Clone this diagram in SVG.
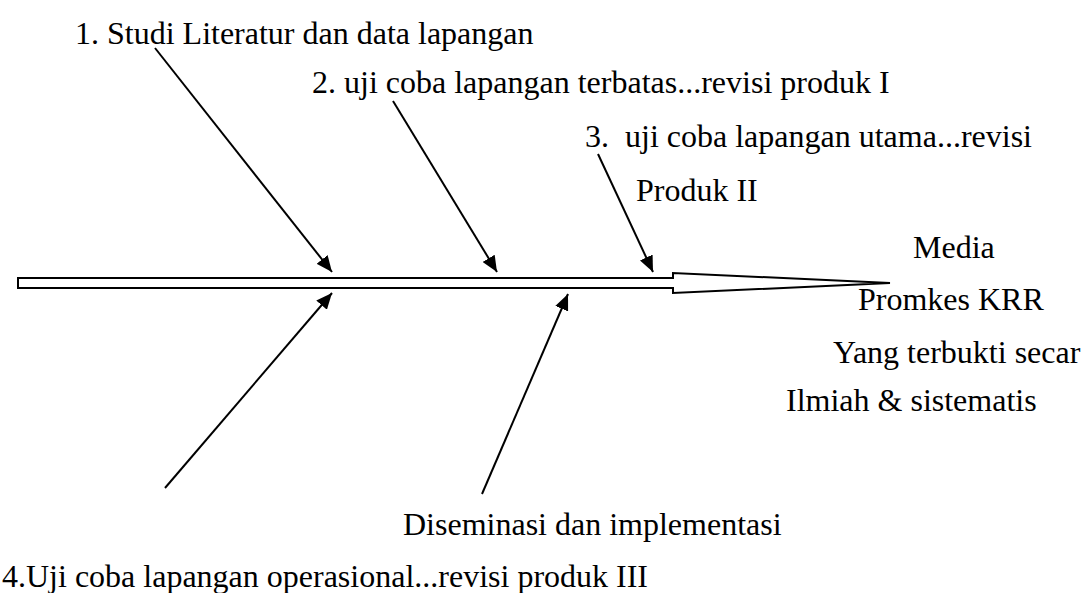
<svg xmlns="http://www.w3.org/2000/svg" width="1087" height="593" viewBox="0 0 1087 593">
<style>
text{font-family:"Liberation Serif","Times New Roman","DejaVu Serif",serif;font-size:32px;fill:#000}
.bone{stroke:#000;stroke-width:2;fill:none}
.spine{stroke:#000;stroke-width:2;fill:#fff;stroke-linejoin:miter}
</style>
<defs>
<marker id="ah" viewBox="0 0 16 14" refX="16" refY="7" markerWidth="16" markerHeight="14" markerUnits="userSpaceOnUse" orient="auto">
<path d="M0,0 L16,7 L0,14 Z" fill="#000"/>
</marker>
</defs>
<rect width="1087" height="593" fill="#fff"/>
<g id="spine">
<path class="spine" d="M18,278 H673 V273 L890,283 L673,293 V288 H18 Z"/>
</g>
<g id="connectors">
<line class="bone" x1="155" y1="48" x2="332" y2="272" marker-end="url(#ah)"/>
<line class="bone" x1="393" y1="101" x2="497" y2="272" marker-end="url(#ah)"/>
<line class="bone" x1="598" y1="154" x2="653" y2="272" marker-end="url(#ah)"/>
<line class="bone" x1="165" y1="488" x2="332" y2="293" marker-end="url(#ah)"/>
<line class="bone" x1="482" y1="494" x2="568" y2="294" marker-end="url(#ah)"/>
</g>
<g id="n1"><text x="75" y="44">1. Studi Literatur dan data lapangan</text></g>
<g id="n2"><text x="312" y="93">2. uji coba lapangan terbatas...revisi produk I</text></g>
<g id="n3"><text x="585" y="147" xml:space="preserve">3.  uji coba lapangan utama...revisi</text><text x="636" y="201">Produk II</text></g>
<g id="n4"><text x="2" y="587">4.Uji coba lapangan operasional...revisi produk III</text></g>
<g id="n5"><text x="403" y="535">Diseminasi dan implementasi</text></g>
<g id="result">
<text x="913" y="258">Media</text>
<text x="858" y="310">Promkes KRR</text>
<text x="833" y="363">Yang terbukti secar</text>
<text x="786" y="411">Ilmiah &amp; sistematis</text>
</g>
</svg>
